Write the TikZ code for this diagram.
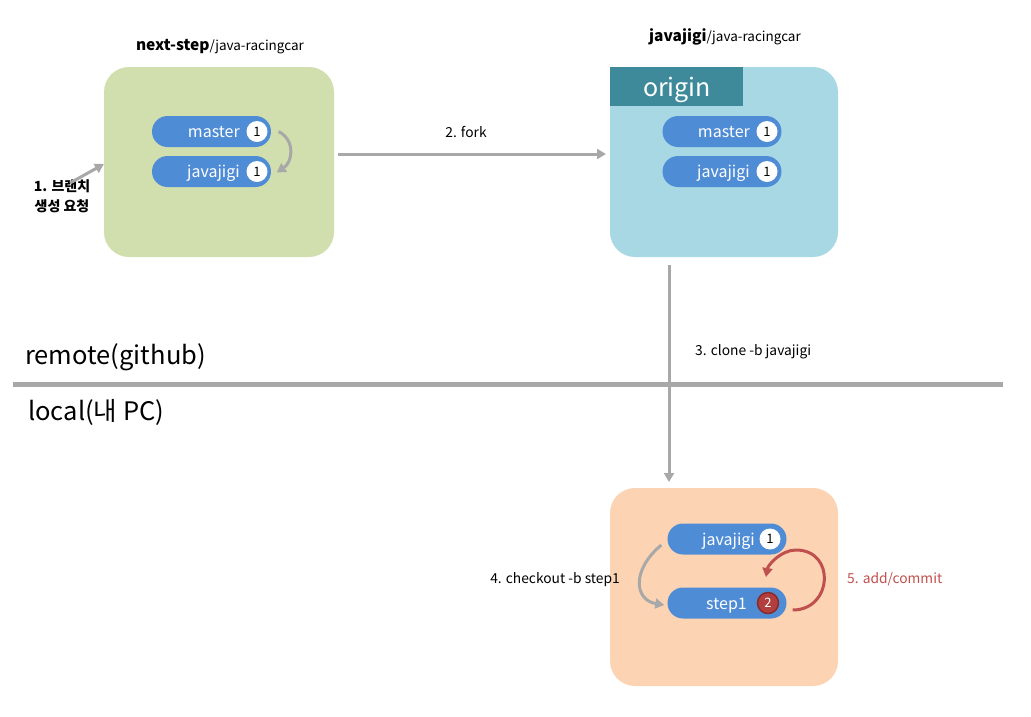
\documentclass[tikz,border=0pt]{standalone}
\usepackage{fontspec}
\setmainfont{Noto Sans CJK KR}
\usetikzlibrary{arrows.meta,calc}
\definecolor{greenbox}{HTML}{D0DFAD}
\definecolor{bluebox}{HTML}{A8D8E4}
\definecolor{orangebox}{HTML}{FCD4B3}
\definecolor{originhead}{HTML}{3E8A9B}
\definecolor{pillblue}{HTML}{4F8CD6}
\definecolor{arrowgray}{HTML}{A8A8A8}
\definecolor{redarrow}{HTML}{C0504D}
\definecolor{redbadge}{HTML}{B23E3E}
\definecolor{redring}{HTML}{8A2B2B}
\tikzset{
  pill/.style={fill=pillblue, rounded corners=15.5pt, minimum width=119pt, minimum height=31pt, inner sep=0pt},
  badge/.style={circle, fill=white, minimum size=21pt, inner sep=0pt, text=black, font=\fontsize{13}{13}\selectfont},
  redbadgestyle/.style={circle, fill=redbadge, draw=redring, line width=1.5pt, minimum size=21pt, inner sep=0pt, text=white, font=\fontsize{13}{13}\selectfont},
  pilltext/.style={text=white, anchor=base east, inner sep=0pt, font=\fontsize{16}{16}\selectfont},
  garrow/.style={draw=arrowgray, line width=3pt, -{Triangle[length=9pt,width=10pt]}},
  rarrow/.style={draw=redarrow, line width=3pt, -{Triangle[length=9pt,width=10pt]}},
  lbl/.style={inner sep=0pt, font=\fontsize{13.8}{13.8}\selectfont},
  bigl/.style={inner sep=0pt, anchor=base west, font=\fontsize{25.5}{25.5}\selectfont},
  titl/.style={inner sep=0pt, font=\fontsize{15.5}{15.5}\selectfont}
}
\begin{document}
\begin{tikzpicture}[x=1pt,y=-1pt]
\useasboundingbox (0,0) rectangle (1031,716);

% separator
\draw[draw=arrowgray, line width=5pt] (13,384) -- (1003,384);
\node[bigl] (remote) at (25,364) {remote(github)};
\node[bigl] (local) at (28,420) {local(내 PC)};

% green repo
\fill[greenbox, rounded corners=25pt] (104,67) rectangle (334,257);
\coordinate (greenL) at (104,162);
\node[titl] (t1) at (220,47) {\textbf{next-step}{\fontsize{13.5}{13.5}\selectfont/java-racingcar}};
\node[pill] (gm) at (211.5,131.5) {};
\node[badge] (gmb) at (257,131.5) {1};
\node[pilltext] (gmt) at (240,137.5) {master};
\node[pill] (gj) at (211.5,171.5) {};
\node[badge] (gjb) at (257,171.5) {1};
\node[pilltext] (gjt) at (240,177.5) {javajigi};
\draw[garrow] ([xshift=11pt]gmb.east) .. controls +(18,10) and +(15,-10) .. ([xshift=9pt,yshift=-1pt]gjb.east);

\node[lbl, align=center, font=\fontsize{14}{20}\selectfont\bfseries] (req) at (62,196) {1. 브랜치\\생성 요청};
\draw[garrow] (70,183) -- ([yshift=-1pt]greenL |- 0,163);

% blue repo
\fill[bluebox, rounded corners=25pt] (610,67) rectangle (838,257);
\fill[originhead] (610,67) rectangle (743,106);
\node[inner sep=0pt, text=white, font=\fontsize{25}{25}\selectfont, anchor=base] (orig) at (677,96) {origin};
\node[titl] (t2) at (725,37) {\textbf{javajigi}{\fontsize{13.5}{13.5}\selectfont/java-racingcar}};
\node[pill] (bm) at (722,131.5) {};
\node[badge] (bmb) at (767,131.5) {1};
\node[pilltext] (bmt) at (750,137.5) {master};
\node[pill] (bj) at (722,171.5) {};
\node[badge] (bjb) at (767,171.5) {1};
\node[pilltext] (bjt) at (750,177.5) {javajigi};
\coordinate (blueL) at (606,154);
\coordinate (blueB) at (669,265);

% fork arrow
\draw[garrow] (338,154) -- (blueL);
\node[lbl] (fork) at (466,132) {2. fork};

% orange local repo
\fill[orangebox, rounded corners=25pt] (610,488) rectangle (838,686);
\coordinate (orangeT) at (669,482);
\draw[garrow] (blueB) -- (orangeT);
\node[lbl, anchor=west] (clone) at (695,352) {3. clone -b javajigi};

\node[pill] (lj) at (727,539) {};
\node[badge] (ljb) at (770,539) {1};
\node[pilltext] (ljt) at (755,545) {javajigi};
\node[pill] (ls) at (727,603) {};
\node[redbadgestyle] (lsb) at (768,603) {2};
\node[pilltext] (lst) at (747,609) {step1};

\draw[garrow] ([xshift=-6pt,yshift=-6pt]lj.west) .. controls +(-30,25) and +(-30,-5) .. ([xshift=-3pt,yshift=-2pt]ls.west);
\node[lbl, anchor=east] (checkout) at (620,580) {4. checkout -b step1};

\draw[rarrow] ([xshift=6pt,yshift=-7pt]ls.east) .. controls +(40,0) and +(40,0) .. (796,550) .. controls +(-15,0) and +(2,-12) .. (766,577);
\node[lbl, anchor=west, text=redarrow] (commit) at (847,579) {5. add/commit};
\end{tikzpicture}
\end{document}
